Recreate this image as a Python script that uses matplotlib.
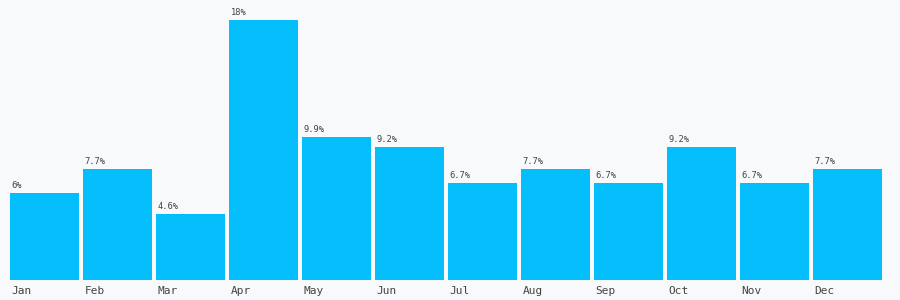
import matplotlib
matplotlib.use('Agg')
import matplotlib.pyplot as plt
from matplotlib.transforms import offset_copy

months = ['Jan', 'Feb', 'Mar', 'Apr', 'May', 'Jun',
          'Jul', 'Aug', 'Sep', 'Oct', 'Nov', 'Dec']
values = [6, 7.7, 4.6, 18, 9.9, 9.2, 6.7, 7.7, 6.7, 9.2, 6.7, 7.7]
labels = ['6%', '7.7%', '4.6%', '18%', '9.9%', '9.2%',
          '6.7%', '7.7%', '6.7%', '9.2%', '6.7%', '7.7%']

bg = '#f7f9fb'
bar_color = '#04befb'
text_color = '#444444'

fig = plt.figure(figsize=(9, 3), dpi=100, facecolor=bg)
# axes spans x 10..886 px, y 20..280 px
ax = fig.add_axes([10 / 900, 20 / 300, 876 / 900, 260 / 300])
ax.set_facecolor(bg)

step = 73
width = 69
xs = [i * step for i in range(len(values))]
ax.bar(xs, values, width=width, align='edge', color=bar_color)

ax.set_xlim(0, 12 * step)
ax.set_ylim(0, 18)
ax.axis('off')

# value labels above bars
lab_tr = offset_copy(ax.transData, fig=fig, x=1.5, y=5, units='dots')
for x, v, l in zip(xs, values, labels):
    ax.text(x, v, l, transform=lab_tr, ha='left', va='baseline',
            fontsize=6.3, family='DejaVu Sans Mono', color=text_color)

# month labels under bars
mon_tr = offset_copy(ax.transData, fig=fig, x=1.5, y=-11.5, units='dots')
for x, m in zip(xs, months):
    ax.text(x, 0, m, transform=mon_tr, ha='left', va='center',
            fontsize=8, family='DejaVu Sans Mono', color=text_color)

fig.savefig('out.png', dpi=100, facecolor=bg)
